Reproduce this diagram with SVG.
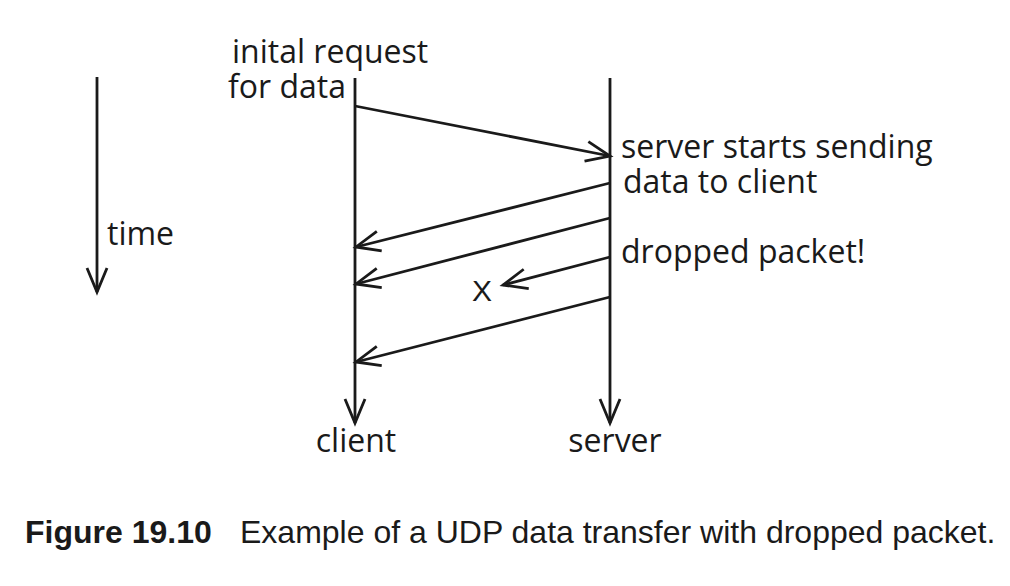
<svg xmlns="http://www.w3.org/2000/svg" width="1010" height="586" viewBox="0 0 1010 586">
<defs>
<marker id="ah" markerUnits="userSpaceOnUse" markerWidth="40" markerHeight="40" viewBox="-30 -20 40 40" refX="0" refY="0" orient="auto">
<path d="M-24,-10 L0,0 L-24,10" fill="none" stroke="#1a1a1a" stroke-width="2.8"/>
</marker>
<style>
.ar{stroke:#1a1a1a;stroke-width:2.8;fill:none;marker-end:url(#ah)}
.lb{font-family:"Open Sans","Noto Sans",sans-serif;font-size:32px;fill:#1a1a1a}
.cap{font-family:"Liberation Sans",Arial,sans-serif;font-size:32px;fill:#1a1a1a}
</style>
</defs>
<rect width="1010" height="586" fill="#fff"/>
<g id="time-axis">
<line class="ar" x1="97" y1="77" x2="97" y2="292"/>
<text class="lb" x="107" y="245">time</text>
</g>
<g id="client">
<line class="ar" x1="355" y1="78" x2="355" y2="423"/>
<text class="lb" x="356" y="452" text-anchor="middle">client</text>
<text class="lb" x="232" y="63">inital request</text>
<text class="lb" x="228" y="98">for data</text>
</g>
<g id="server">
<line class="ar" x1="610" y1="78" x2="610" y2="423"/>
<text class="lb" x="615" y="452" text-anchor="middle">server</text>
<text class="lb" x="621" y="158">server starts sending</text>
<text class="lb" x="623" y="193">data to client</text>
<text class="lb" x="621" y="263">dropped packet!</text>
</g>
<g id="drop">
<text x="482" y="301" text-anchor="middle" font-family="Liberation Sans, Arial, sans-serif" font-size="30" fill="#1a1a1a">X</text>
</g>
<g id="connectors">
<line class="ar" x1="355" y1="106" x2="610" y2="156"/>
<line class="ar" x1="610" y1="183" x2="356" y2="247"/>
<line class="ar" x1="610" y1="218" x2="356" y2="284"/>
<line class="ar" x1="610" y1="257" x2="503" y2="285"/>
<line class="ar" x1="610" y1="297" x2="356" y2="362"/>
</g>
<g id="caption">
<text class="cap" x="25" y="543" font-weight="bold">Figure 19.10</text>
<text class="cap" x="240" y="543">Example of a UDP data transfer with dropped packet.</text>
</g>
</svg>
